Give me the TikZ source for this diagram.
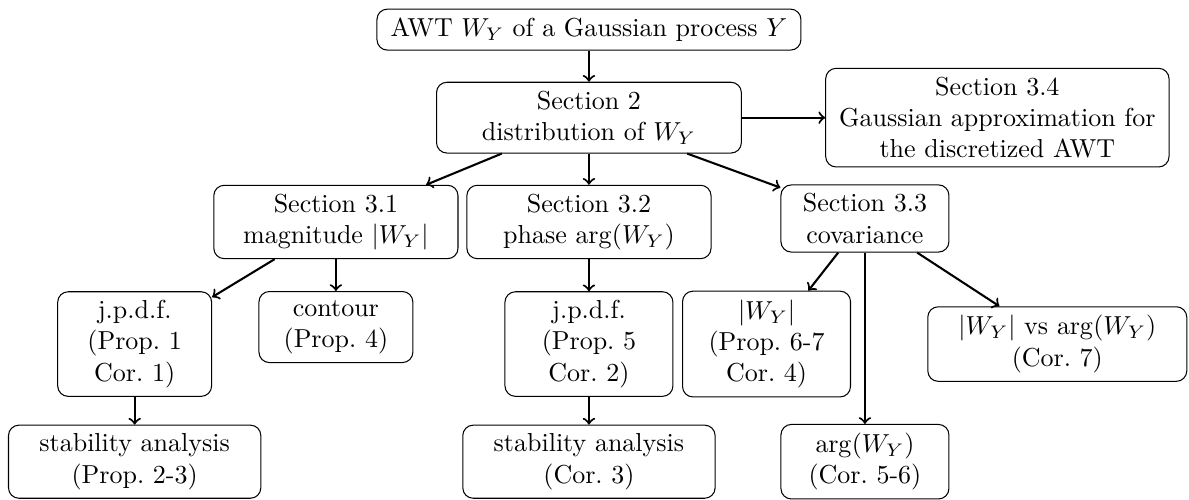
\documentclass[tikz,border=0pt]{standalone}
\usepackage{amsmath}
\usepackage{amssymb}
\usepackage{tikz}
\tikzstyle{block}=[draw, rounded corners=4pt, align=center]
\tikzstyle{sblock}=[block, minimum width=2.08cm]
\tikzstyle{mblock}=[block, minimum width=2.27cm]
\tikzstyle{link}=[->, thick]

\begin{document}
\begin{tikzpicture}
        \useasboundingbox (0, 0) rectangle (16.07, -6.757);
        \node[block, minimum width=5.73cm] (awt) at (7.96, -0.40) {AWT $W_Y$ of a Gaussian process $Y$};
        \node[block, minimum width=4.12cm] (sec2) at (7.96, -1.59) {Section 2\\distribution of $W_Y$};
        \node[block, minimum width=4.64cm] (sec34) at (13.48, -1.59) {Section 3.4\\Gaussian approximation for\\the discretized AWT};
        \node[block, minimum width=3.30cm] (sec31) at (4.54, -3.00) {Section 3.1\\magnitude $|W_Y|$};
        \node[block, minimum width=3.30cm] (sec32) at (7.96, -3.00) {Section 3.2\\phase $\arg(W_Y)$};
        \node[mblock] (sec33) at (11.69, -2.953) {Section 3.3\\covariance};
        \node[sblock] (jpdf1) at (1.82, -4.65) {j.p.d.f.\\(Prop.~1\\Cor.~1)};
        \node[sblock] (cont) at (4.54, -4.42) {contour\\(Prop.~4)};
        \node[mblock] (jpdf2) at (7.96, -4.65) {j.p.d.f.\\(Prop.~5\\Cor.~2)};
        \node[mblock] (absw) at (10.36, -4.65) {$|W_Y|$\\(Prop.~6-7\\Cor.~4)};
        \node[block, minimum width=3.50cm] (vs) at (14.29, -4.65) {$|W_Y|$ vs $\arg(W_Y)$\\(Cor.~7)};
        \node[block, minimum width=3.41cm] (stab1) at (1.82, -6.24) {stability analysis\\(Prop.~2-3)};
        \node[block, minimum width=3.41cm] (stab2) at (7.96, -6.24) {stability analysis\\(Cor.~3)};
        \node[mblock] (argw) at (11.69, -6.24) {$\arg(W_Y)$\\(Cor.~5-6)};
        \draw[link] (awt) -- (sec2);
        \draw[link] (sec2) -- (sec34);
        \draw[link] (sec2) -- (sec31);
        \draw[link] (sec2) -- (sec32);
        \draw[link] (sec2) -- (sec33);
        \draw[link] (sec31) -- (jpdf1);
        \draw[link] (sec31) -- (cont);
        \draw[link] (sec32) -- (jpdf2);
        \draw[link] (sec33) -- (absw);
        \draw[link] (sec33) -- (argw);
        \draw[link] (sec33) -- (vs);
        \draw[link] (jpdf1) -- (stab1);
        \draw[link] (jpdf2) -- (stab2);
    \end{tikzpicture}
\end{document}
